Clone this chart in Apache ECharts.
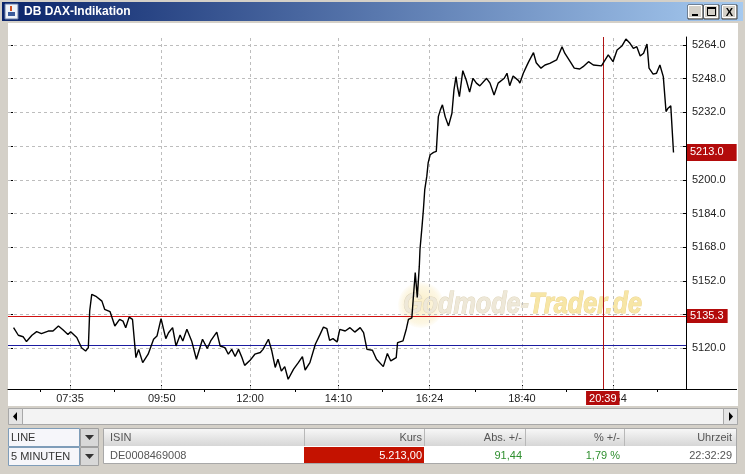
<!DOCTYPE html>
<html><head><meta charset="utf-8">
<script src="https://cdn.jsdelivr.net/npm/echarts@6.0.0/dist/echarts.min.js"></script>
<style>html,body{margin:0;padding:0;background:#d4d0c8;}#c{width:745px;height:474px;}</style>
</head><body><div id="c"></div>
<script>
// ---- data ----
const times = ['06:12','06:19','06:26','06:31','06:39','06:46','06:53','07:03','07:10','07:18','07:25','07:32','07:36','07:45','07:52','07:58','08:02','08:04','08:07','08:14','08:22','08:26','08:34','08:41','08:48','08:53','08:57','09:02','09:07','09:12','09:16','09:22','09:30','09:38','09:43','09:49','09:56','10:00','10:06','10:11','10:17','10:21','10:27','10:34','10:41','10:50','10:57','11:02','11:11','11:16','11:23','11:28','11:33','11:38','11:43','11:48','11:52','12:00','12:07','12:15','12:19','12:27','12:32','12:37','12:41','12:46','12:51','12:56','13:04','13:11','13:17','13:21','13:28','13:36','13:43','13:48','13:53','13:57','14:02','14:08','14:12','14:20','14:27','14:34','14:42','14:47','14:52','15:00','15:06','15:16','15:22','15:27','15:35','15:37','15:45','15:50','15:53','15:58','16:00','16:03','16:06','16:09','16:10','16:13','16:15','16:17','16:20','16:22','16:25','16:30','16:34','16:37','16:40','16:43','16:47','16:52','16:57','17:00','17:03','17:05','17:08','17:13','17:18','17:23','17:28','17:33','17:38','17:48','17:53','17:59','18:05','18:14','18:18','18:22','18:27','18:35','18:37','18:42','18:47','18:50','18:57','19:01','19:08','19:14','19:21','19:26','19:31','19:39','19:43','19:51','19:57','20:05','20:10','20:18','20:25','20:37','20:47','20:54','21:00','21:07','21:13','21:19','21:24','21:29','21:34','21:39','21:44','21:47','21:53','21:58','22:03','22:08','22:12','22:15','22:19','22:23'];
const values = [5129.8,5126.2,5125.5,5123.2,5126.2,5127.9,5127.0,5128.2,5128.2,5130.6,5128.7,5126.6,5127.9,5125.1,5120.3,5118.7,5120.3,5137.7,5145.6,5144.5,5142.4,5138.5,5137.4,5130.6,5133.7,5132.9,5129.8,5134.8,5133.7,5115.6,5119.5,5113.2,5117.2,5124.3,5125.8,5134.1,5124.6,5127.4,5129.8,5121.1,5126.3,5123.5,5129.0,5123.5,5114.8,5124.3,5119.9,5123.5,5127.7,5121.1,5120.3,5117.2,5119.5,5116.1,5119.5,5115.6,5111.9,5114.3,5117.2,5118.0,5119.5,5124.3,5118.7,5110.9,5114.8,5109.2,5111.3,5105.3,5110.1,5113.2,5116.1,5109.7,5113.2,5121.9,5126.6,5130.1,5129.3,5123.8,5124.6,5123.0,5129.0,5128.2,5129.8,5127.7,5129.8,5127.4,5119.5,5119.1,5114.8,5111.3,5117.5,5114.0,5115.6,5122.7,5123.5,5129.3,5133.7,5134.5,5143.2,5156.0,5144.2,5159.0,5166.9,5177.9,5185.8,5195.3,5201.6,5208.0,5211.9,5213.0,5213.5,5230.0,5233.2,5235.6,5230.0,5225.6,5231.6,5242.7,5249.0,5244.3,5239.5,5251.8,5247.4,5241.6,5248.2,5245.9,5244.6,5248.2,5245.9,5240.3,5245.9,5248.2,5250.6,5244.7,5249.3,5247.1,5245.9,5250.6,5254.1,5256.1,5260.4,5255.6,5253.0,5254.5,5255.3,5256.1,5256.9,5263.2,5260.1,5256.1,5253.0,5252.6,5253.7,5256.1,5254.5,5254.1,5259.3,5256.1,5261.6,5263.5,5266.8,5264.8,5262.4,5263.2,5258.8,5260.1,5264.5,5253.0,5250.2,5250.6,5254.5,5249.0,5232.4,5234.0,5235.1,5213.0];
const yTicks = [5120,5136,5152,5168,5184,5200,5216,5232,5248,5264];
const yTickLabels = [5120,5152,5168,5184,5200,5232,5248,5264];
const xTickLabels = ['07:35','09:50','12:00','14:10','16:24','18:40','20:54'];
const xMinorTicks = ['06:51','08:40','10:52','13:06','15:14','17:31','19:45','21:59'];
const lastPrice = 5213.0;
const refLevel = 5135.3;
const prevClose = 5121.56;
const crossTime = '20:39';
const windowTitle = 'DB DAX-Indikation';
const comboTexts = ['LINE','5 MINUTEN'];
const tableHeaders = ['ISIN','Kurs','Abs. +/-','% +/-','Uhrzeit'];
const tableRow = ['DE0008469008','5.213,00','91,44','1,79 %','22:32:29'];
const watermark = ['Godmode-','Trader.de'];

// ---- helpers ----
const toMin = s => (+s.slice(0,2))*60 + (+s.slice(3,5));
const fmt = m => { m = Math.round(m); const h = Math.floor(m/60), mm = m%60; return (h<10?'0':'')+h+':'+(mm<10?'0':'')+mm; };
const FONT = 'Liberation Sans';
const X_MIN = 363.8, X_MAX = 1361.4, Y_MIN = 5100.68, Y_MAX = 5267.8;

const chart = echarts.init(document.getElementById('c'), null, {renderer:'canvas'});

const lineData = times.map((t,i) => [toMin(t), values[i]]);
const xTickVals = xTickLabels.map(toMin);
const xMinorVals = xMinorTicks.map(toMin);

// UI chrome (window frame, table) as graphic elements
const colRight = [0, 422, 522, 620, 732];
const dataColors = ['#555555','#ffffff','#2f8f2f','#2f8f2f','#555555'];
const g = [];
g.push({type:'rect', shape:{x:8,y:23,width:730,height:383}, style:{fill:'#ffffff'}, z:-10, silent:true});
g.push({type:'rect', shape:{x:2,y:2,width:741,height:19}, style:{fill:new echarts.graphic.LinearGradient(0,0,1,0,[{offset:0,color:'#0a246a'},{offset:1,color:'#a6caf0'}])}, z:-10, silent:true});
// java icon
g.push({type:'rect', shape:{x:5,y:4,width:13,height:15}, style:{fill:'#eef2f8', stroke:'#6a7fa8', lineWidth:1}, z:-9, silent:true});
g.push({type:'rect', shape:{x:8,y:12,width:7,height:4}, style:{fill:'#3a5a9a'}, z:-8, silent:true});
g.push({type:'rect', shape:{x:10,y:6,width:2,height:5}, style:{fill:'#d05020'}, z:-8, silent:true});
g.push({type:'text', x:24, y:12, style:{text:windowTitle, fill:'#ffffff', font:'bold 12px "'+FONT+'"', verticalAlign:'middle'}, z:-8, silent:true});
// title buttons
[688,704,722].forEach((bx,i)=>{
  g.push({type:'rect', shape:{x:bx,y:5,width:15,height:14}, style:{fill:'#d4d0c8', stroke:'#404040', lineWidth:1}, z:-9, silent:true});
  g.push({type:'rect', shape:{x:bx+0.5,y:5.5,width:13,height:12}, style:{fill:'#d4d0c8', stroke:'#ffffff', lineWidth:1}, z:-9, silent:true});
});
g.push({type:'rect', shape:{x:692,y:14,width:6,height:2}, style:{fill:'#000'}, z:-8, silent:true});
g.push({type:'rect', shape:{x:707.5,y:7.5,width:8,height:8}, style:{fill:'none', stroke:'#000', lineWidth:1}, z:-8, silent:true});
g.push({type:'rect', shape:{x:707,y:7,width:9,height:2}, style:{fill:'#000'}, z:-8, silent:true});
g.push({type:'text', x:729.5, y:12.5, style:{text:'X', fill:'#000', font:'bold 11px "'+FONT+'"', align:'center', verticalAlign:'middle'}, z:-8, silent:true});
// x-axis line extension to the right edge
g.push({type:'line', shape:{x1:686,y1:389.5,x2:737,y2:389.5}, style:{stroke:'#000', lineWidth:1}, z:-5, silent:true});
// scrollbar
g.push({type:'rect', shape:{x:8.5,y:408.5,width:729,height:16}, style:{fill:'#f3f3f3', stroke:'#a8a8a8'}, z:-9, silent:true});
g.push({type:'rect', shape:{x:8.5,y:408.5,width:14,height:16}, style:{fill:'#e4e4e4', stroke:'#a8a8a8'}, z:-8, silent:true});
g.push({type:'rect', shape:{x:723.5,y:408.5,width:14,height:16}, style:{fill:'#e4e4e4', stroke:'#a8a8a8'}, z:-8, silent:true});
g.push({type:'polygon', shape:{points:[[17,412],[17,421],[13,416.5]]}, style:{fill:'#000'}, z:-7, silent:true});
g.push({type:'polygon', shape:{points:[[729,412],[729,421],[733,416.5]]}, style:{fill:'#000'}, z:-7, silent:true});
// combo boxes
[428,447].forEach((cy,i)=>{
  g.push({type:'rect', shape:{x:8.5,y:cy+0.5,width:71,height:18}, style:{fill:'#f6f6fa', stroke:'#7f9db9'}, z:-9, silent:true});
  g.push({type:'rect', shape:{x:80.5,y:cy+0.5,width:18,height:18}, style:{fill:'#d8d8d8', stroke:'#a0a0a0'}, z:-9, silent:true});
  g.push({type:'polygon', shape:{points:[[85,cy+7],[94,cy+7],[89.5,cy+12]]}, style:{fill:'#333'}, z:-8, silent:true});
  g.push({type:'text', x:11, y:cy+10, style:{text:comboTexts[i], fill:'#333', font:'11px "'+FONT+'"', verticalAlign:'middle'}, z:-8, silent:true});
});
// table
g.push({type:'rect', shape:{x:103.5,y:428.5,width:633,height:35}, style:{fill:'#ffffff', stroke:'#a8a8a8'}, z:-9, silent:true});
g.push({type:'rect', shape:{x:104,y:429,width:632,height:17}, style:{fill:new echarts.graphic.LinearGradient(0,0,0,1,[{offset:0,color:'#f7f7f7'},{offset:1,color:'#d6d6d6'}])}, z:-9, silent:true});
[304,424,525,624].forEach(sx=>{
  g.push({type:'line', shape:{x1:sx+0.5,y1:429,x2:sx+0.5,y2:446}, style:{stroke:'#b8b8b8'}, z:-8, silent:true});
});
g.push({type:'rect', shape:{x:304,y:447,width:120,height:16}, style:{fill:'#c41200'}, z:-8, silent:true});
tableHeaders.forEach((h,i)=>{
  g.push({type:'text', x: i===0?110:colRight[i], y:438, style:{text:h, fill:'#555', font:'11px "'+FONT+'"', align: i===0?'left':'right', verticalAlign:'middle'}, z:-7, silent:true});
});
tableRow.forEach((h,i)=>{
  g.push({type:'text', x: i===0?110:colRight[i], y:455.5, style:{text:h, fill:dataColors[i], font:'11px "'+FONT+'"', align: i===0?'left':'right', verticalAlign:'middle'}, z:-7, silent:true});
});
// watermark
g.push({type:'circle', shape:{cx:421,cy:305,r:23}, style:{fill:new echarts.graphic.RadialGradient(0.5,0.5,0.5,[{offset:0,color:'rgba(250,236,190,0.95)'},{offset:0.8,color:'rgba(250,238,200,0.5)'},{offset:1,color:'rgba(250,238,200,0.1)'}])}, z:-4, silent:true});
g.push({type:'text', x:403, y:305, scaleX:0.84, originX:0, originY:0, style:{
  text:'{a|'+watermark[0]+'}{b|'+watermark[1]+'}',
  rich:{a:{fill:'#eee8d8', stroke:'#ddd3b8', lineWidth:1, font:'italic bold 30px "'+FONT+'"'},
        b:{fill:'#f7e6a6', stroke:'#ecd388', lineWidth:1, font:'italic bold 30px "'+FONT+'"'}},
  verticalAlign:'middle'}, z:-4, silent:true});

const boxLabel = (txt, pad) => ({show:true, distance:1, formatter:txt, color:'#fff', backgroundColor:'#b30b0b', padding:pad, fontSize:11, fontFamily:FONT});
const markSeries = (z, color, item, label) => ({
  type:'line', data:[], xAxisIndex:0, yAxisIndex:0, z:z, silent:true, color:color,
  markLine:{silent:true, symbol:['none','none'], animation:false,
    lineStyle:{color:color, width:1, type:'solid', opacity:1},
    label: label || {show:false},
    data:[item]}
});

const option = {
  animation:false,
  backgroundColor:'#d4d0c8',
  grid:{left:8, right:59, top:37, bottom:85, containLabel:false},
  graphic: g,
  xAxis:[
    {type:'value', min:X_MIN, max:X_MAX, position:'bottom',
     axisLine:{show:true, onZero:false, lineStyle:{color:'#000', width:1}},
     axisTick:{show:true, customValues:xTickVals, inside:true, length:4, lineStyle:{color:'#000'}},
     axisLabel:{show:true, customValues:xTickVals, formatter:v=>fmt(v), color:'#1e1e1e', fontSize:11, fontFamily:FONT, margin:4},
     splitLine:{show:false}},
    {type:'value', min:X_MIN, max:X_MAX, position:'bottom',
     axisLine:{show:false, onZero:false},
     axisTick:{show:true, customValues:xMinorVals, inside:false, length:3, lineStyle:{color:'#000'}},
     axisLabel:{show:false}, splitLine:{show:false}}
  ],
  yAxis:[
    {type:'value', min:Y_MIN, max:Y_MAX, position:'right',
     axisLine:{show:true, onZero:false, lineStyle:{color:'#000', width:1}},
     axisTick:{show:true, customValues:yTicks, inside:true, length:4, lineStyle:{color:'#000'}},
     axisLabel:{show:true, customValues:yTickLabels, formatter:v=>v.toFixed(1), color:'#1e1e1e', fontSize:11, fontFamily:FONT, margin:6},
     splitLine:{show:false}},
    {type:'value', min:Y_MIN, max:Y_MAX, position:'left',
     axisLine:{show:false, onZero:false},
     axisTick:{show:true, customValues:yTicks, inside:true, length:5, lineStyle:{color:'#000'}},
     axisLabel:{show:false}, splitLine:{show:false}}
  ],
  series:[
    {type:'line', data:[], xAxisIndex:0, yAxisIndex:0, z:1, silent:true,
     markLine:{silent:true, symbol:['none','none'], animation:false,
       lineStyle:{color:'#bdbdbd', type:[3,3], width:1},
       label:{show:false},
       data:[...yTicks.map(v=>({yAxis:v})), ...xTickVals.map(v=>({xAxis:v}))]}},
    markSeries(3, '#1c1ca0', {yAxis:prevClose}),
    markSeries(3, '#d01010', {yAxis:refLevel}, Object.assign(boxLabel(refLevel.toFixed(1),[2,4,1,3]),{position:'end'})),
    {type:'line', data:lineData, xAxisIndex:0, yAxisIndex:0, z:5, symbol:'none', showSymbol:false,
     lineStyle:{color:'#000', width:1.4}, silent:true},
    markSeries(6, '#b01414', {xAxis:toMin(crossTime)}, Object.assign(boxLabel(crossTime,[2,3,1,3]),{position:'start', distance:2})),
    markSeries(6, 'rgba(0,0,0,0)', {yAxis:lastPrice}, Object.assign(boxLabel(lastPrice.toFixed(1),[3,13,3,3]),{position:'end'}))
  ]
};
chart.setOption(option);
</script>
</body></html>
